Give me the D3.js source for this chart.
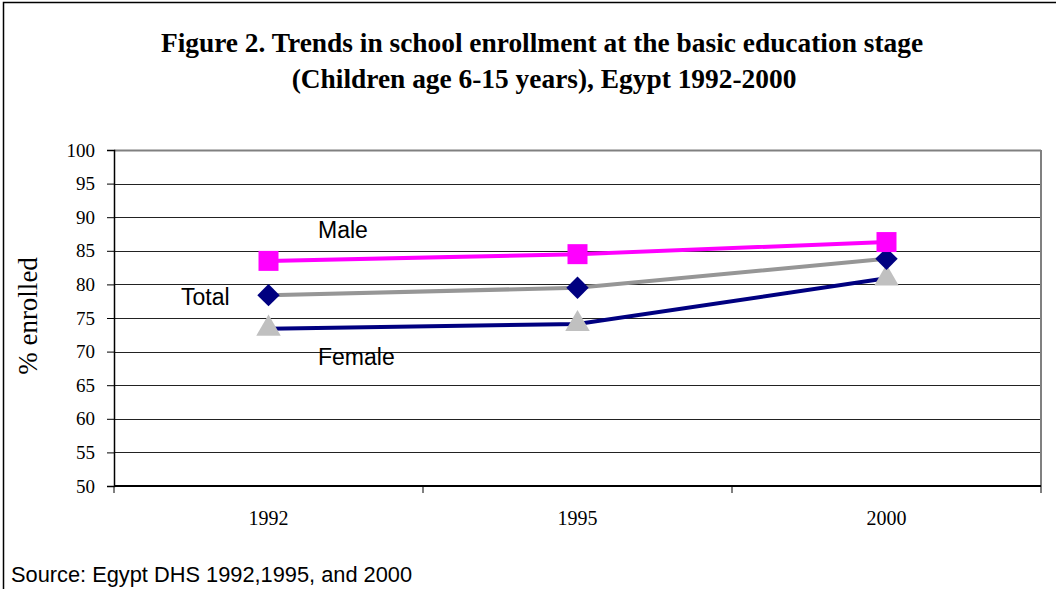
<!DOCTYPE html>
<html>
<head>
<meta charset="utf-8">
<script src="https://cdn.jsdelivr.net/npm/d3@7"></script>
<style>
  body { margin: 0; background: #fff; }
  svg { display: block; }
</style>
</head>
<body>
<div id="chart"></div>
<script>
// chart data
const years = ["1992", "1995", "2000"];
const male = [83.5, 84.5, 86.3];
const total = [78.4, 79.5, 83.8];
const female = [73.4, 74.1, 80.9];
const yTicks = [50, 55, 60, 65, 70, 75, 80, 85, 90, 95, 100];

const W = 1056, H = 589;
const plot = { left: 114, top: 150, right: 1041, bottom: 486 };
const serif = "'Liberation Serif', 'Times New Roman', serif";
const sans = "'Liberation Sans', Arial, sans-serif";

const svg = d3.select("#chart").append("svg")
  .attr("width", W)
  .attr("height", H);

// outer frame
svg.append("rect")
  .attr("x", 3.5).attr("y", 2.5)
  .attr("width", W + 10).attr("height", H + 10)
  .attr("fill", "none")
  .attr("stroke", "#000")
  .attr("stroke-width", 1.5);

// title
const title = svg.append("text")
  .attr("text-anchor", "middle")
  .attr("font-family", serif)
  .attr("font-weight", "bold")
  .attr("font-size", 27.4);
title.append("tspan").attr("x", 542).attr("y", 52)
  .text("Figure 2. Trends in school enrollment at the basic education stage");
title.append("tspan").attr("x", 544).attr("y", 88)
  .text("(Children age 6-15 years), Egypt 1992-2000");

const x = d3.scaleBand()
  .domain(years)
  .range([plot.left, plot.right]);

const y = d3.scaleLinear()
  .domain([50, 100])
  .range([plot.bottom, plot.top]);

// gridlines
svg.append("g")
  .selectAll("line")
  .data(yTicks)
  .enter()
  .append("line")
  .attr("x1", plot.left).attr("x2", plot.right)
  .attr("y1", d => Math.round(y(d)) + 0.5)
  .attr("y2", d => Math.round(y(d)) + 0.5)
  .attr("stroke", d => d === 100 ? "#808080" : "#222")
  .attr("stroke-width", d => d === 100 ? 2 : 1);

// right border of plot area
svg.append("line")
  .attr("x1", plot.right).attr("x2", plot.right)
  .attr("y1", plot.top).attr("y2", plot.bottom)
  .attr("stroke", "#808080")
  .attr("stroke-width", 2);

// y axis
const yAxis = svg.append("g")
  .attr("transform", `translate(${plot.left},0)`)
  .call(d3.axisLeft(y).tickValues(yTicks).tickSize(7).tickPadding(12));
yAxis.select(".domain").attr("stroke", "#000").attr("stroke-width", 1.5);
yAxis.selectAll("line").attr("stroke", "#000");
yAxis.selectAll("text")
  .attr("font-family", serif)
  .attr("font-size", 19)
  .attr("fill", "#000");

// x axis: ticks on band edges, labels at centres
const xAxis = svg.append("g")
  .attr("transform", `translate(0,${plot.bottom})`);
xAxis.append("line")
  .attr("x1", plot.left).attr("x2", plot.right)
  .attr("stroke", "#000").attr("stroke-width", 2);
const edges = years.map(d => x(d)).concat([x(years[years.length - 1]) + x.bandwidth()]);
xAxis.selectAll(".tick-edge")
  .data(edges)
  .enter()
  .append("line")
  .attr("x1", d => d).attr("x2", d => d)
  .attr("y1", 0).attr("y2", 7)
  .attr("stroke", "#000");
xAxis.selectAll(".tick-label")
  .data(years)
  .enter()
  .append("text")
  .attr("x", d => x(d) + x.bandwidth() / 2)
  .attr("y", 39)
  .attr("text-anchor", "middle")
  .attr("font-family", serif)
  .attr("font-size", 20)
  .text(d => d);

// y axis label
svg.append("text")
  .attr("transform", "translate(37,316) rotate(-90)")
  .attr("text-anchor", "middle")
  .attr("font-family", serif)
  .attr("font-size", 27)
  .text("% enrolled");

const cx = d => x(d) + x.bandwidth() / 2;
const line = d3.line()
  .x((d, i) => cx(years[i]))
  .y(d => y(d));

const series = [
  { name: "Female", values: female, stroke: "#000080", marker: "triangle", fill: "#C0C0C0" },
  { name: "Total", values: total, stroke: "#969696", marker: "diamond", fill: "#000080" },
  { name: "Male", values: male, stroke: "#FF00FF", marker: "square", fill: "#FF00FF" }
];

series.forEach(s => {
  svg.append("path")
    .datum(s.values)
    .attr("d", line)
    .attr("fill", "none")
    .attr("stroke", s.stroke)
    .attr("stroke-width", 4);
});

const shapes = {
  square: d3.symbol().type(d3.symbolSquare).size(400),
  diamond: d3.symbol().type(d3.symbolDiamond2).size(320),
  triangle: d3.symbol().type(d3.symbolTriangle).size(260)
};

series.forEach(s => {
  svg.append("g")
    .selectAll("path")
    .data(s.values)
    .enter()
    .append("path")
    .attr("d", shapes[s.marker])
    .attr("transform", (d, i) => `translate(${cx(years[i])},${y(d)})`)
    .attr("fill", s.fill);
});

// series labels
svg.append("text").attr("x", 318).attr("y", 238)
  .attr("font-family", sans).attr("font-size", 23).text("Male");
svg.append("text").attr("x", 181).attr("y", 305)
  .attr("font-family", sans).attr("font-size", 23).text("Total");
svg.append("text").attr("x", 318).attr("y", 365)
  .attr("font-family", sans).attr("font-size", 23).text("Female");

// source note
svg.append("text")
  .attr("x", 11).attr("y", 582)
  .attr("font-family", sans)
  .attr("font-size", 21.8)
  .text("Source: Egypt DHS 1992,1995, and 2000");
</script>
</body>
</html>
